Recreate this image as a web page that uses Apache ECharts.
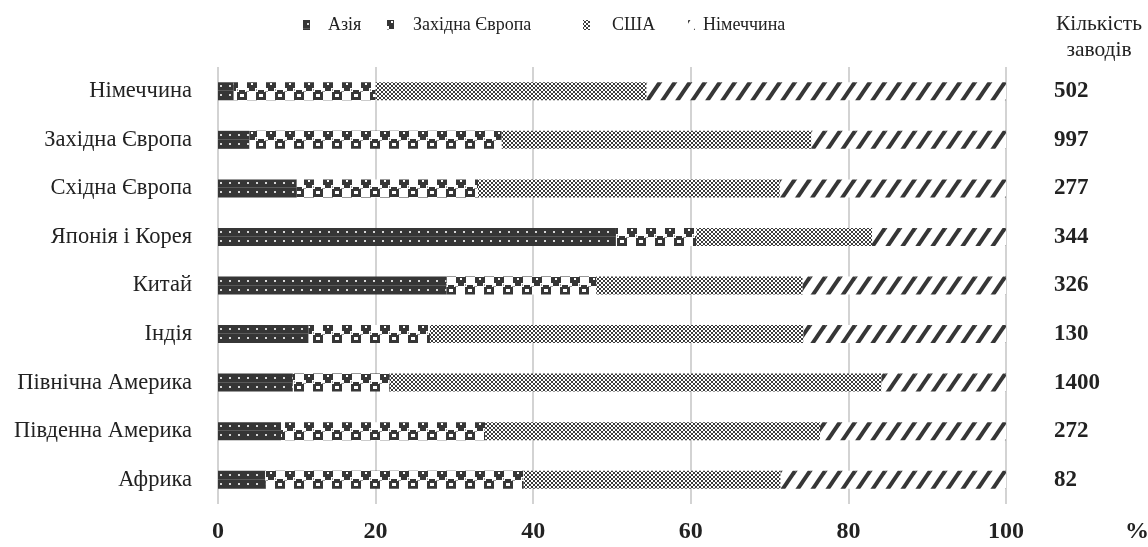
<!DOCTYPE html>
<html>
<head>
<meta charset="utf-8">
<script src="https://cdn.jsdelivr.net/npm/echarts@6/dist/echarts.min.js"></script>
<style>html,body{margin:0;padding:0;background:#fff}#c{width:1148px;height:547px}</style>
</head>
<body>
<div id="c"></div>
<script>
const categories = ['Німеччина','Західна Європа','Східна Європа','Японія і Корея','Китай','Індія','Північна Америка','Південна Америка','Африка'];
const asia       = [2.0, 4.0, 10.0, 50.5, 29.0, 11.5, 9.5, 8.0, 6.0];
const westEurope = [18.0, 32.0, 23.0, 10.2, 19.0, 15.4, 12.3, 25.9, 32.8];
const usa        = [34.4, 39.3, 38.3, 22.3, 26.2, 47.4, 62.4, 42.5, 32.6];
const germany    = [45.6, 24.7, 28.7, 17.0, 25.8, 25.7, 15.8, 23.6, 28.6];
const plants     = [502, 997, 277, 344, 326, 130, 1400, 272, 82];
const xTicks     = [0, 20, 40, 60, 80, 100];
const seriesNames = ['Азія','Західна Європа','США','Німеччина'];

const DARK = '#363636';
const BAR_H = 18;
function tile(w, h, draw) {
  const c = document.createElement('canvas');
  c.width = w; c.height = h;
  const ctx = c.getContext('2d');
  draw(ctx, w, h);
  return c;
}
const pAsia = tile(9, 18, (ctx, w, h) => {
  ctx.fillStyle = DARK; ctx.fillRect(0, 0, w, h);
  ctx.fillStyle = '#d8d8d8';
  ctx.fillRect(4, 3, 2, 2);
  ctx.fillRect(4, 12, 2, 2);
  ctx.fillStyle = '#5a5a5a';
  ctx.fillRect(0, 8, w, 1);
});
const pWE = tile(19, 18, (ctx, w, h) => {
  ctx.fillStyle = '#fff'; ctx.fillRect(0, 0, w, h);
  ctx.fillStyle = DARK;
  // top cup
  ctx.fillRect(0, 0, 10, 6); ctx.fillRect(2, 6, 6, 3);
  // bottom ring
  ctx.fillRect(11, 8, 6, 2); ctx.fillRect(9, 10, 10, 8);
  ctx.fillStyle = '#fff';
  ctx.fillRect(4, 1, 2, 2);
  ctx.fillRect(12, 12, 4, 3);
  ctx.fillStyle = '#999';
  ctx.fillRect(9, 7, 1, 2); ctx.fillRect(0, 9, 2, 1); ctx.fillRect(18, 9, 1, 1);
});
const pUSA = tile(4, 4, (ctx, w, h) => {
  ctx.fillStyle = '#fff'; ctx.fillRect(0, 0, w, h);
  ctx.fillStyle = '#3c3c3c';
  [[0,0],[1,1],[2,2],[3,3],[3,0],[2,1],[1,2],[0,3]].forEach(p => ctx.fillRect(p[0], p[1], 1, 1));
});
const pGer = tile(15, 22, (ctx, w, h) => {
  ctx.fillStyle = '#fff'; ctx.fillRect(0, 0, w, h);
  ctx.strokeStyle = DARK; ctx.lineWidth = 4;
  [[0,0],[-w,0],[w,0],[0,-h],[0,h]].forEach(o => {
    ctx.beginPath();
    ctx.moveTo(o[0], o[1] + h);
    ctx.lineTo(o[0] + w, o[1]);
    ctx.stroke();
  });
});
const tiles = [pAsia, pWE, pUSA, pGer];
const dataSets = [asia, westEurope, usa, germany];
const pat = (t, y) => (y == null ? { image: t, repeat: 'repeat' } : { image: t, repeat: 'repeat', x: 0, y: y });

const FONT = 'Liberation Serif';
const chart = echarts.init(document.getElementById('c'), null, { renderer: 'canvas' });

const legendLeft = [303, 387, 583, 688];
const legendPad  = [13, 14, 17, 3];
const legends = seriesNames.map((n, i) => ({
  data: [n],
  left: legendLeft[i],
  top: 16,
  padding: 0,
  itemWidth: 7,
  itemHeight: 10,
  icon: 'rect',
  selectedMode: false,
  textStyle: { fontFamily: FONT, fontSize: 18, color: '#222', padding: [0, 0, 0, legendPad[i]] }
}));

function buildSeries(rowTops) {
  return seriesNames.map((n, i) => ({
    name: n,
    type: 'bar',
    stack: 'total',
    barWidth: BAR_H,
    data: dataSets[i].map((v, k) => ({
      value: v,
      itemStyle: { color: pat(tiles[i], rowTops ? rowTops[k] : null) }
    })),
    itemStyle: { color: pat(tiles[i]) },
    emphasis: { disabled: true },
    label: i === 3 ? {
      show: true,
      position: 'right',
      distance: 48,
      formatter: p => String(plants[p.dataIndex]),
      fontFamily: FONT,
      fontSize: 23,
      fontWeight: 'bold',
      color: '#222'
    } : { show: false }
  }));
}

chart.setOption({
  animation: false,
  backgroundColor: '#fff',
  legend: legends,
  grid: { left: 218, right: 142, top: 67, height: 437, containLabel: false },
  xAxis: {
    type: 'value',
    min: 0, max: 100, interval: 20,
    axisLine: { show: false },
    axisTick: { show: false },
    splitLine: { show: true, lineStyle: { color: '#c4c4c4', width: 1.5 } },
    axisLabel: {
      margin: 16,
      fontFamily: FONT, fontSize: 24, fontWeight: 'bold', color: '#222',
      formatter: v => xTicks.includes(v) ? String(v) : ''
    }
  },
  yAxis: {
    type: 'category',
    inverse: true,
    data: categories,
    axisLine: { show: false },
    axisTick: { show: false },
    axisLabel: { margin: 26, fontFamily: FONT, fontSize: 22.5, color: '#222' }
  },
  graphic: [
    { type: 'text', left: 1125, top: 520, style: { text: '%', fontFamily: FONT, fontSize: 24, fontWeight: 'bold', fill: '#222' } },
    { type: 'text', x: 1099, y: 11, style: { text: 'Кількість\nзаводів', fontFamily: FONT, fontSize: 21.5, fill: '#222', align: 'center', lineHeight: 26 } }
  ],
  series: buildSeries(null)
});

// align each row's pattern with the top edge of its bar
const rowTops = categories.map((c, k) => Math.round(chart.convertToPixel({ yAxisIndex: 0 }, k) - BAR_H / 2));
chart.setOption({ series: buildSeries(rowTops) });
</script>
</body>
</html>
